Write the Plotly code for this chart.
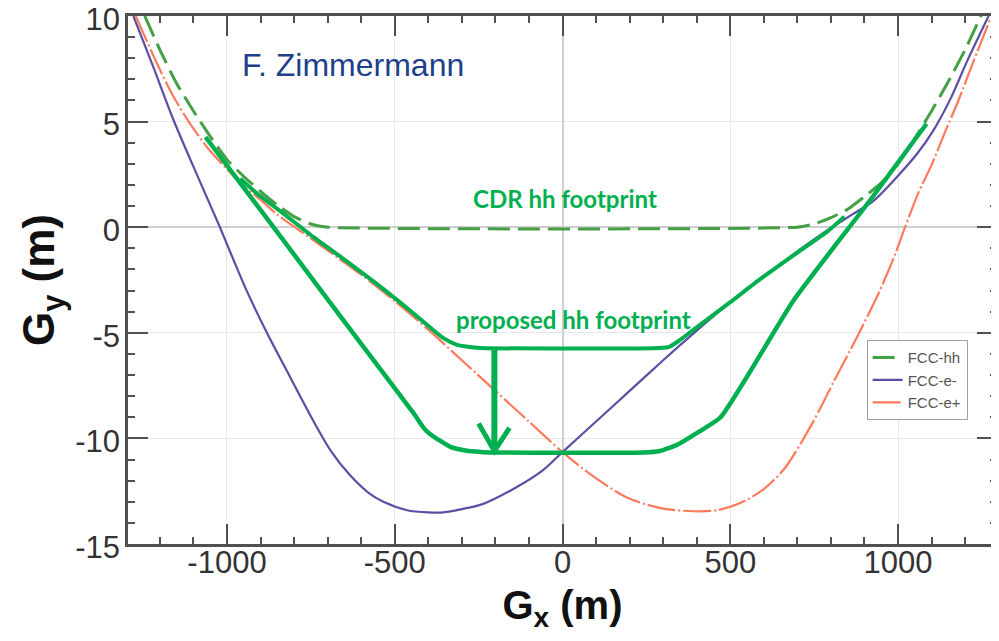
import plotly.graph_objects as go

# ---------------- data ----------------
hh_x = [-1245, -1200, -1150, -1100, -1050, -1000, -950, -900, -850, -800, -750, -700,
        700, 750, 800, 850, 900, 950, 1000, 1050, 1100, 1150, 1200, 1250]
hh_y = [10, 8.4, 6.8, 5.5, 4.3, 3.2, 2.4, 1.7, 1.05, 0.5, 0.15, 0,
        0, 0.15, 0.45, 0.85, 1.45, 2.1, 3.0, 4.2, 5.5, 6.9, 8.4, 10.1]

em_x = [-1279, -1220, -1160, -1090, -1021, -991, -940, -881, -812, -744, -690, -633,
        -580, -534, -463, -400, -355, -300, -236, -136, -58, 0, 100, 200, 300, 400,
        500, 600, 700, 780, 858, 927, 998, 1058, 1106, 1157, 1207, 1270]
em_y = [10, 7.6, 5.1, 2.5, 0, -1.15, -3.05, -5.0, -7.09, -9.13, -10.6, -11.75,
        -12.55, -13.0, -13.4, -13.5, -13.5, -13.35, -13.1, -12.3, -11.5, -10.65, -9.2, -7.75, -6.3, -4.9,
        -3.55, -2.35, -1.15, -0.25, 0.55, 1.25, 2.4, 3.5, 4.6, 6.1, 7.9, 10]

ep_x = [-1272, -1210, -1160, -1110, -1060, -1000, -950, -893, -850, -780, -700, -600,
        -500, -400, -300, -200, -100, 0, 92, 192, 292, 390, 460, 530, 600, 663, 744,
        812, 881, 940, 991, 1021, 1060, 1100, 1140, 1180, 1226, 1276]
ep_y = [10, 7.8, 6.2, 4.9, 3.8, 2.75, 1.95, 1.2, 0.6, -0.2, -1.1, -2.25,
        -3.5, -4.85, -6.3, -7.75, -9.2, -10.65, -11.8, -12.8, -13.3, -13.45, -13.4, -13.06, -12.4, -11.4, -9.3,
        -7.2, -5.1, -3.2, -1.3, 0, 1.6, 2.95, 4.5, 6.0, 7.9, 9.9]

# proposed hh footprints (hand-drawn green overlays)
up_x = [-960, -911, -840, -744, -640, -544, -450, -355, -314, -270, -245,
        290, 320, 345, 390, 500, 590, 700, 790, 840]
up_y = [2.3, 1.6, 0.75, -0.45, -1.65, -2.8, -4.0, -5.25, -5.57, -5.68, -5.72,
        -5.72, -5.65, -5.4, -4.86, -3.55, -2.45, -1.2, -0.2, 0.5]

lo_x = [-1064, -840, -641, -444, -414, -394, -334, -280, -236,
        241, 290, 342, 400, 471, 689, 918, 1085]
lo_y = [4.27, -0.45, -4.66, -8.8, -9.5, -9.8, -10.4, -10.6, -10.65,
        -10.67, -10.6, -10.3, -9.75, -9.0, -3.46, 1.3, 4.9]

arrow_shaft_x = [-203, -203]
arrow_shaft_y = [-5.72, -10.5]
arrow_head_x = [-250, -203, -158]
arrow_head_y = [-9.3, -10.6, -9.5]

x_ticks = [-1000, -500, 0, 500, 1000]
x_labels = ["-1000", "-500", "0", "500", "1000"]
y_ticks = [-15, -10, -5, 0, 5, 10]
y_labels = ["-15", "-10", "-5", "0", "5", "10"]

GREEN = "#00b050"
AX = "#505050"

fig = go.Figure()

fig.add_trace(go.Scatter(x=hh_x, y=hh_y, mode="lines", name="FCC-hh",
                         line=dict(color="#45a045", width=3, dash="22px,8px",
                                   shape="spline", smoothing=0.5)))
fig.add_trace(go.Scatter(x=em_x, y=em_y, mode="lines", name="FCC-e-",
                         line=dict(color="#5a4fa5", width=2.2, shape="spline", smoothing=0.8)))
fig.add_trace(go.Scatter(x=ep_x, y=ep_y, mode="lines", name="FCC-e+",
                         line=dict(color="#ff7a5c", width=2.2, dash="28px,3px,2px,3px",
                                   shape="spline", smoothing=0.8)))

fig.add_trace(go.Scatter(x=up_x, y=up_y, mode="lines", showlegend=False, hoverinfo="skip",
                         line=dict(color=GREEN, width=4, shape="spline", smoothing=0.5)))
fig.add_trace(go.Scatter(x=lo_x, y=lo_y, mode="lines", showlegend=False, hoverinfo="skip",
                         line=dict(color=GREEN, width=4.5, shape="spline", smoothing=0.5)))
fig.add_trace(go.Scatter(x=arrow_shaft_x, y=arrow_shaft_y, mode="lines", showlegend=False,
                         hoverinfo="skip", line=dict(color=GREEN, width=6)))
fig.add_trace(go.Scatter(x=arrow_head_x, y=arrow_head_y, mode="lines", showlegend=False,
                         hoverinfo="skip", line=dict(color=GREEN, width=5)))

fig.add_annotation(x=7, y=1.38, xref="x", yref="y", text="<b>CDR hh footprint</b>",
                   showarrow=False, font=dict(family="Lato", size=24, color=GREEN))
fig.add_annotation(x=34, y=-4.39, xref="x", yref="y", text="<b>proposed hh footprint</b>",
                   showarrow=False, font=dict(family="Lato", size=24, color=GREEN))
fig.add_annotation(x=-624, y=7.68, xref="x", yref="y", text="F. Zimmermann",
                   showarrow=False, font=dict(family="Liberation Sans, Arial", size=32, color="#203f8a"))

# the page body keeps the browser's default 8px margin, so the figure is sized to fit inside it
fig.update_layout(
    width=991, height=625,
    margin=dict(l=120, r=2, t=8, b=89, autoexpand=False),
    paper_bgcolor="white", plot_bgcolor="white",
    font=dict(family="Liberation Sans, Arial", color="#333333"),
    legend=dict(x=0.850, y=0.386, xanchor="left", yanchor="top",
                bgcolor="white", bordercolor="#a0a0a0", borderwidth=1,
                font=dict(family="Liberation Sans, Arial", size=15, color="#555555"),
                itemwidth=30, tracegroupgap=0),
    xaxis=dict(range=[-1295, 1295], tickvals=x_ticks, ticktext=x_labels, ticks="inside", ticklen=20,
               tickwidth=2, tickcolor=AX, showline=True, linecolor=AX, linewidth=2.5,
               mirror="allticks", showgrid=True, gridcolor="#e8e8e8", gridwidth=1,
               zeroline=True, zerolinecolor="#cfcfcf", zerolinewidth=2,
               automargin=False, ticklabeloverflow="allow", ticklabelstandoff=-11,
               tickfont=dict(size=31, color="#333333"),
               minor=dict(dtick=100, tick0=0, ticks="inside", ticklen=7, tickwidth=2,
                          tickcolor=AX, showgrid=False),
               title=dict(text="<b>G<sub>x</sub> (m)</b>", standoff=25,
                          font=dict(size=40, color="#111111"))),
    yaxis=dict(range=[-15, 10], tickvals=y_ticks, ticktext=y_labels, ticks="inside", ticklen=20,
               tickwidth=2, tickcolor=AX, showline=True, linecolor=AX, linewidth=2.5,
               mirror="allticks", showgrid=True, gridcolor="#e8e8e8", gridwidth=1,
               zeroline=True, zerolinecolor="#cfcfcf", zerolinewidth=2,
               automargin=False, ticklabeloverflow="allow", ticklabelstandoff=-1,
               ticklabelshift=3,
               tickfont=dict(size=31, color="#333333"),
               minor=dict(dtick=1, tick0=0, ticks="inside", ticklen=7, tickwidth=2,
                          tickcolor=AX, showgrid=False),
               title=dict(text="<b>G<sub>y</sub> (m)</b>", standoff=7,
                          font=dict(size=44, color="#111111"))),
)

fig.write_html("out.html")
